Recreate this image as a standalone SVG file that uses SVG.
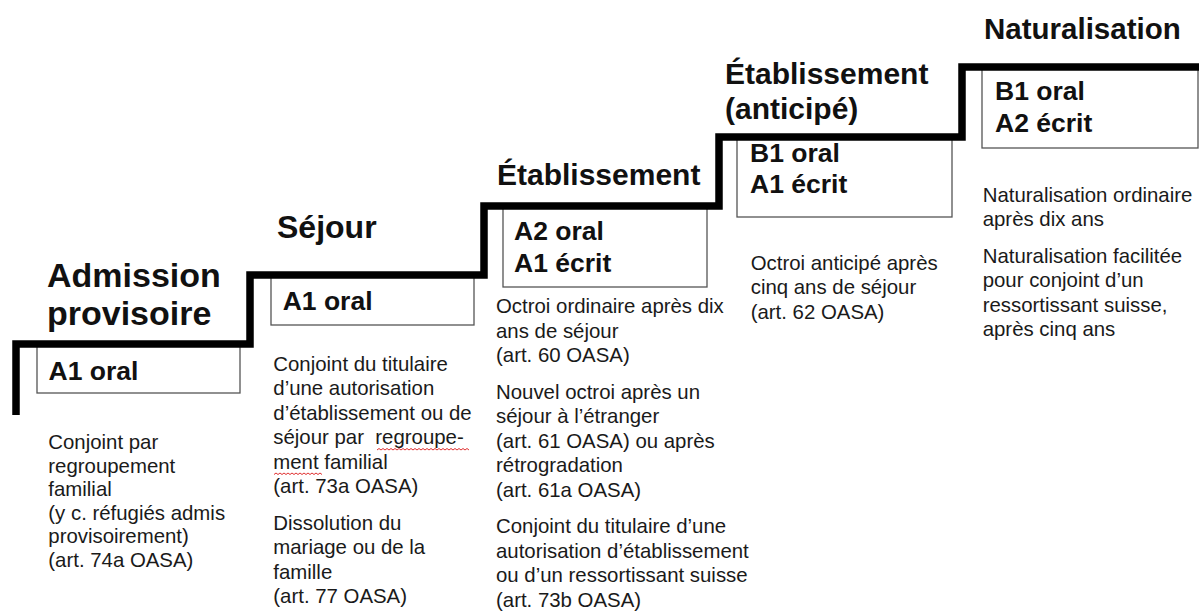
<svg xmlns="http://www.w3.org/2000/svg" width="1199" height="614" viewBox="0 0 1199 614">
<style>
  .title { font-family: "Liberation Sans", Arial, sans-serif; font-weight: bold; font-size: 30px; fill: #111; }
  .big { font-size: 34px; }
  .lvl { font-family: "Liberation Sans", Arial, sans-serif; font-weight: bold; font-size: 26.5px; fill: #111; }
  .body { font-family: "Liberation Sans", Arial, sans-serif; font-size: 20.4px; fill: #1a1a1a; }
  .box { fill: #fff; stroke: #555; stroke-width: 1.3; }
  .stair { fill: none; stroke: #000; stroke-width: 7.5; stroke-linejoin: miter; }
  .squig { fill: none; stroke: #e03030; stroke-width: 1; }
</style>
<rect width="1199" height="614" fill="#fff"/>

<g id="step-admission">
  <rect class="box" x="37" y="344" width="203" height="49"/>
  <text class="title big" x="47" y="287">Admission</text>
  <text class="title big" x="47" y="325">provisoire</text>
  <text class="lvl" x="48.5" y="379.5">A1 oral</text>
  <text class="body">
    <tspan x="48.3" y="449">Conjoint par</tspan>
    <tspan x="48.3" y="472.5">regroupement</tspan>
    <tspan x="48.3" y="496">familial</tspan>
    <tspan x="48.3" y="519.5">(y c. réfugiés admis</tspan>
    <tspan x="48.3" y="543">provisoirement)</tspan>
    <tspan x="48.3" y="566.5">(art. 74a OASA)</tspan>
  </text>
</g>

<g id="step-sejour">
  <rect class="box" x="271" y="275" width="203" height="50"/>
  <text class="title" style="font-size:32px" x="277" y="238">Séjour</text>
  <text class="lvl" x="282.7" y="310">A1 oral</text>
  <text class="body" xml:space="preserve"><tspan x="273.3" y="370.5">Conjoint du titulaire</tspan><tspan x="273.3" y="395">d’une autorisation</tspan><tspan x="273.3" y="419.5">d’établissement ou de</tspan><tspan x="273.3" y="444">séjour par  regroupe-</tspan><tspan x="273.3" y="468.5">ment familial</tspan><tspan x="273.3" y="493">(art. 73a OASA)</tspan><tspan x="273.3" y="529.5">Dissolution du</tspan><tspan x="273.3" y="554">mariage ou de la</tspan><tspan x="273.3" y="578.5">famille</tspan><tspan x="273.3" y="603">(art. 77 OASA)</tspan></text>
  <path class="squig" d="M377 450 l2 -1.5 2 1.5 l2 -1.5 2 1.5 l2 -1.5 2 1.5 l2 -1.5 2 1.5 l2 -1.5 2 1.5 l2 -1.5 2 1.5 l2 -1.5 2 1.5 l2 -1.5 2 1.5 l2 -1.5 2 1.5 l2 -1.5 2 1.5 l2 -1.5 2 1.5 l2 -1.5 2 1.5 l2 -1.5 2 1.5 l2 -1.5 2 1.5 l2 -1.5 2 1.5 l2 -1.5 2 1.5 l2 -1.5 2 1.5 l2 -1.5 2 1.5 l2 -1.5 2 1.5 l2 -1.5 2 1.5 l2 -1.5 2 1.5 l2 -1.5 2 1.5 l2 -1.5 2 1.5"/>
  <path class="squig" d="M274 474.5 l2 -1.5 2 1.5 l2 -1.5 2 1.5 l2 -1.5 2 1.5 l2 -1.5 2 1.5 l2 -1.5 2 1.5 l2 -1.5 2 1.5 l2 -1.5 2 1.5 l2 -1.5 2 1.5 l2 -1.5 2 1.5 l2 -1.5 2 1.5 l2 -1.5 2 1.5 l2 -1.5 2 1.5"/>
</g>

<g id="step-etablissement">
  <rect class="box" x="503" y="206" width="204" height="81"/>
  <text class="title" x="497" y="185">Établissement</text>
  <text class="lvl" x="514" y="239.5">A2 oral</text>
  <text class="lvl" x="514" y="271.5">A1 écrit</text>
  <text class="body">
    <tspan x="496" y="313">Octroi ordinaire après dix</tspan>
    <tspan x="496" y="337.5">ans de séjour</tspan>
    <tspan x="496" y="362">(art. 60 OASA)</tspan>
    <tspan x="496" y="398.5">Nouvel octroi après un</tspan>
    <tspan x="496" y="423">séjour à l’étranger</tspan>
    <tspan x="496" y="447.5">(art. 61 OASA) ou après</tspan>
    <tspan x="496" y="472">rétrogradation</tspan>
    <tspan x="496" y="496.5">(art. 61a OASA)</tspan>
    <tspan x="496" y="533">Conjoint du titulaire d’une</tspan>
    <tspan x="496" y="557.5">autorisation d’établissement</tspan>
    <tspan x="496" y="582">ou d’un ressortissant suisse</tspan>
    <tspan x="496" y="606.5">(art. 73b OASA)</tspan>
  </text>
</g>

<g id="step-etablissement-anticipe">
  <rect class="box" x="737" y="137" width="215" height="80"/>
  <text class="title" x="725" y="83.5">Établissement</text>
  <text class="title" x="725" y="118.5">(anticipé)</text>
  <text class="lvl" x="750" y="162">B1 oral</text>
  <text class="lvl" x="750" y="193">A1 écrit</text>
  <text class="body">
    <tspan x="750.7" y="269.5">Octroi anticipé après</tspan>
    <tspan x="750.7" y="294">cinq ans de séjour</tspan>
    <tspan x="750.7" y="318.5">(art. 62 OASA)</tspan>
  </text>
</g>

<g id="step-naturalisation">
  <rect class="box" x="982" y="67" width="216" height="81"/>
  <text class="title" style="font-size:29.5px" x="984" y="38.5">Naturalisation</text>
  <text class="lvl" x="995" y="100">B1 oral</text>
  <text class="lvl" x="995" y="131.5">A2 écrit</text>
  <text class="body">
    <tspan x="982.7" y="201.7">Naturalisation ordinaire</tspan>
    <tspan x="982.7" y="226.2">après dix ans</tspan>
    <tspan x="982.7" y="262.7">Naturalisation facilitée</tspan>
    <tspan x="982.7" y="287.2">pour conjoint d’un</tspan>
    <tspan x="982.7" y="311.7">ressortissant suisse,</tspan>
    <tspan x="982.7" y="336.2">après cinq ans</tspan>
  </text>
</g>

<g id="connectors">
  <path class="stair" d="M16 415 V344 H250 V275 H484 V206 H719 V137 H962 V67 H1199"/>
</g>
</svg>
